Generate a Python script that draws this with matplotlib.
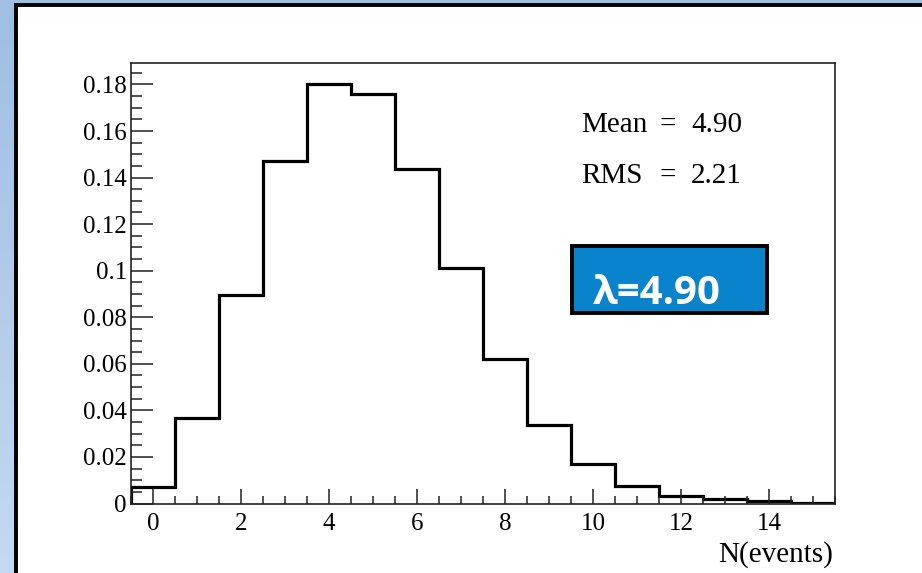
import numpy as np
import matplotlib
matplotlib.use("Agg")
import matplotlib.pyplot as plt
from matplotlib.patches import Rectangle
from matplotlib.ticker import MultipleLocator, FixedLocator, FuncFormatter

# Histogram of the number of events per trial (normalised)
n_events = list(range(16))
fraction = [0.0072, 0.0367, 0.0897, 0.1471, 0.1802, 0.1761, 0.1438, 0.1010,
            0.0619, 0.0336, 0.0169, 0.0075, 0.0033, 0.0018, 0.0009, 0.0003]
x_ticks = [0, 2, 4, 6, 8, 10, 12, 14]
y_ticks = [0, 0.02, 0.04, 0.06, 0.08, 0.1, 0.12, 0.14, 0.16, 0.18]
stat_names = ["Mean", "RMS"]
stat_values = ["4.90", "2.21"]
lambda_label = "λ=4.90"
x_label = "N(events)"

W, H = 922, 573
fig = plt.figure(figsize=(W / 100, H / 100), dpi=100)

# Slide-style background: blue gradient with a white framed panel
bg = fig.add_axes([0, 0, 1, 1])
bg.set_xlim(0, W)
bg.set_ylim(H, 0)
bg.axis("off")
top_c = np.array([158, 190, 226]) / 255
bot_c = np.array([197, 217, 240]) / 255
t = np.linspace(0, 1, 256)[:, None]
grad = (top_c[None, None, :] * (1 - t[..., None]) + bot_c[None, None, :] * t[..., None])
grad = np.repeat(grad, 2, axis=1)
bg.imshow(grad, extent=[0, W, H, 0], aspect="auto", zorder=0)
bg.add_patch(Rectangle((16, 4.8), W + 20, H + 20, facecolor="white",
                       edgecolor="black", linewidth=2.8, zorder=1))

# Histogram axes
left, right, top, bottom = 131, 835, 63, 503.5
ax = fig.add_axes([left / W, (H - bottom) / H, (right - left) / W, (bottom - top) / H])
edges = np.arange(len(n_events) + 1) - 0.5
ax.stairs(fraction, edges, color="black", linewidth=2.3, baseline=0)
ax.set_xlim(-0.5, 15.5)
ax.set_ylim(0, 1.05 * max(fraction))

for s in ax.spines.values():
    s.set_linewidth(1.2)
    s.set_color("#222222")

serif = "Liberation Serif"
ax.xaxis.set_major_locator(FixedLocator(x_ticks))
ax.xaxis.set_minor_locator(MultipleLocator(0.5))
ax.yaxis.set_major_locator(FixedLocator(y_ticks))
ax.yaxis.set_minor_locator(MultipleLocator(0.005))
ax.yaxis.set_major_formatter(FuncFormatter(lambda v, p: "%g" % round(v, 3)))
ax.tick_params(which="both", direction="in", top=False, right=False, width=1.1,
               color="#222222")
ax.tick_params(axis="x", which="major", length=10.5, pad=7)
ax.tick_params(axis="x", which="minor", length=5.8)
ax.tick_params(axis="y", which="major", length=15.6, pad=3)
ax.tick_params(axis="y", which="minor", length=8)
for lab in ax.get_xticklabels() + ax.get_yticklabels():
    lab.set_fontfamily(serif)
    lab.set_fontsize(18)

# Overlay for annotations drawn above the histogram frame
ov = fig.add_axes([0, 0, 1, 1], zorder=10)
ov.set_xlim(0, W)
ov.set_ylim(H, 0)
ov.axis("off")

# Statistics text: name, "=" and value in columns
stat_size = 21
for i, (name, val) in enumerate(zip(stat_names, stat_values)):
    yb = 132 + 51 * i
    ov.text(581, yb, name, family=serif, fontsize=stat_size, ha="left", va="baseline")
    ov.text(667.5, yb, "=", family=serif, fontsize=stat_size, ha="center", va="baseline")
    ov.text(742, yb, val, family=serif, fontsize=stat_size, ha="right", va="baseline")

# Axis title, right-aligned under the axis
ov.text(833, 562, x_label, family=serif, fontsize=21, ha="right", va="baseline")

# Highlighted lambda box
ov.add_patch(Rectangle((572, 246), 195, 67, facecolor="#0883cc",
                       edgecolor="black", linewidth=2.8, zorder=3))
ov.text(593, 304, lambda_label,
        family=["Open Sans", "Noto Sans", "DejaVu Sans"], fontweight="bold",
        fontsize=29, color="white", ha="left", va="baseline", zorder=5)

fig.savefig("out.png", dpi=100)
